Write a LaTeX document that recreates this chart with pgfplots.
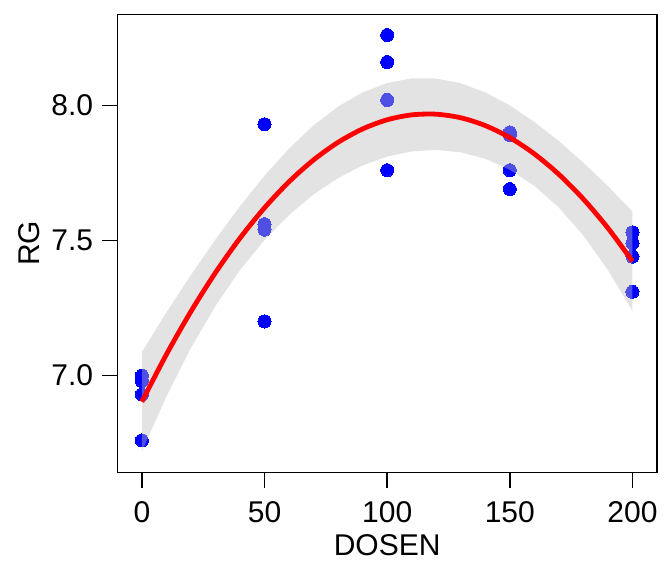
\documentclass[border=0pt]{standalone}
\usepackage{pgfplots}
\pgfplotsset{compat=1.18}
\usepackage{fontspec}
\setmainfont{Liberation Sans}
\definecolor{bandgray}{RGB}{189,189,189}
\definecolor{ptblue}{RGB}{0,0,255}
\begin{document}
\begin{tikzpicture}
\path[use as bounding box] (0,0) rectangle (504pt,432pt);
\begin{axis}[
  at={(88pt,77.8pt)}, anchor=south west,
  scale only axis, width=404.75pt, height=343.5pt,
  clip mode=individual,
  xmin=-10, xmax=210, ymin=6.642, ymax=8.337,
  xtick={0,50,100,150,200},
  ytick={7,7.5,8}, yticklabels={7.0,7.5,8.0},
  tick align=outside, major tick length=11.5pt,
  xtick pos=bottom, ytick pos=left,
  axis line style={line width=1.1pt, black},
  every tick/.style={line width=1.1pt, black},
  /pgf/number format/assume math mode=true,
  tick label style={font=\fontsize{22.5}{27}\selectfont, inner sep=0pt},
  xticklabel style={anchor=north, yshift=-10.5pt},
  yticklabel style={anchor=east, xshift=-6.5pt},
  label style={font=\fontsize{22.5}{27}\selectfont, inner sep=0pt},
  xlabel={DOSEN}, ylabel={RG},
  xlabel style={at={(axis description cs:0.5,-0.1821)}, anchor=base},
  ylabel style={at={(axis description cs:-0.1445,0.5)}, anchor=base, rotate=0},
]
% observations
\addplot[only marks, color=ptblue, mark=*, mark size=4.9pt, mark options={fill=ptblue, draw=ptblue, line width=0pt}] coordinates {
 (0,7.00) (0,6.98) (0,6.93) (0,6.76)
 (50,7.93) (50,7.56) (50,7.54) (50,7.20)
 (100,8.26) (100,8.16) (100,8.02) (100,7.76)
 (150,7.90) (150,7.89) (150,7.76) (150,7.69)
 (200,7.53) (200,7.49) (200,7.44) (200,7.31)
};
% confidence band (upper then lower reversed)
\addplot[draw=none, fill=bandgray, fill opacity=0.42] coordinates {
 (0,7.08680) (10,7.23336) (20,7.37215) (30,7.50352) (40,7.62667) (50,7.73965)
 (60,7.84006) (70,7.92576) (80,7.99529) (90,8.04772) (100,8.08258) (110,8.09970)
 (120,8.09925) (130,8.08170) (140,8.04798) (150,7.99955) (160,7.93855) (170,7.86738)
 (180,7.78799) (190,7.70118) (200,7.60660)
 (200,7.23904) (190,7.39024) (180,7.51785) (170,7.62156) (160,7.70213) (150,7.76153)
 (140,7.80216) (130,7.82616) (120,7.83499) (110,7.82956) (100,7.81038) (90,7.77758)
 (80,7.73103) (70,7.67022) (60,7.59424) (50,7.50163) (40,7.39025) (30,7.25770)
 (20,7.10201) (10,6.92242) (0,6.71924)
};
% quadratic fit
\addplot[red, line width=3.6pt, smooth] coordinates {
 (0,6.90302) (10,7.07789) (20,7.23708) (30,7.38061) (40,7.50846) (50,7.62064)
 (60,7.71715) (70,7.79799) (80,7.86316) (90,7.91265) (100,7.94648) (110,7.96463)
 (120,7.96712) (130,7.95393) (140,7.92507) (150,7.88054) (160,7.82034) (170,7.74447)
 (180,7.65292) (190,7.54571) (200,7.42282)
};
\end{axis}
\end{tikzpicture}
\end{document}
